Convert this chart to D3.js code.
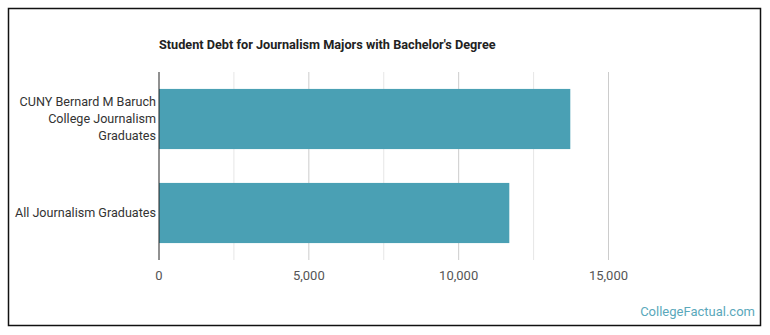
<!DOCTYPE html>
<html>
<head>
<meta charset="utf-8">
<script src="https://cdn.jsdelivr.net/npm/d3@7.9.0/dist/d3.min.js"></script>
<style>
  body { margin: 0; background: #fff; }
  svg { font-family: Roboto, "Noto Sans", sans-serif; }
</style>
</head>
<body>
<svg id="chart" width="770" height="335"></svg>
<script>
const categories = [
  ['CUNY Bernard M Baruch', 'College Journalism', 'Graduates'],
  ['All Journalism Graduates']
];
const debtValues = [13725, 11690];
const majorTicks = [0, 5000, 10000, 15000];
const minorTicks = [2500, 7500, 12500];

const svg = d3.select('#chart');

// frame
svg.append('rect')
  .attr('x', 8.5).attr('y', 8.5)
  .attr('width', 752).attr('height', 317)
  .attr('fill', 'none')
  .attr('stroke', '#111')
  .attr('stroke-width', 1.5);

svg.append('text')
  .attr('x', 159).attr('y', 49)
  .attr('font-size', 12.7)
  .attr('font-weight', 700)
  .attr('fill', '#222')
  .text("Student Debt for Journalism Majors with Bachelor's Degree");

const x = d3.scaleLinear().domain([0, 15000]).range([159, 608.5]);
const y = d3.scaleBand().domain(d3.range(categories.length)).range([72, 260]).paddingInner(0.36).paddingOuter(0.18);

// grid
svg.append('g').selectAll('line')
  .data(minorTicks)
  .join('line')
  .attr('x1', d => x(d)).attr('x2', d => x(d))
  .attr('y1', 72).attr('y2', 260)
  .attr('stroke', '#e6e6e6');

svg.append('g').selectAll('line')
  .data(majorTicks.slice(1))
  .join('line')
  .attr('x1', d => x(d)).attr('x2', d => x(d))
  .attr('y1', 72).attr('y2', 260)
  .attr('stroke', '#cccccc');

// bars
svg.append('g').selectAll('rect')
  .data(debtValues)
  .join('rect')
  .attr('x', x(0))
  .attr('y', (d, i) => y(i))
  .attr('width', d => x(d) - x(0))
  .attr('height', y.bandwidth())
  .attr('fill', '#4aa0b4');

// axis line
svg.append('line')
  .attr('x1', x(0)).attr('x2', x(0))
  .attr('y1', 72).attr('y2', 260)
  .attr('stroke', '#222');

// category labels
const labels = svg.append('g').selectAll('text')
  .data(categories)
  .join('text')
  .attr('text-anchor', 'end')
  .attr('font-size', 12.6)
  .attr('fill', '#333');

labels.each(function(lines, i) {
  const cy = y(i) + y.bandwidth() / 2;
  const lh = 17;
  const top = cy - (lines.length - 1) * lh / 2;
  d3.select(this).selectAll('tspan')
    .data(lines)
    .join('tspan')
    .attr('x', 156)
    .attr('y', (d, j) => top + j * lh)
    .attr('dy', '0.35em')
    .text(d => d);
});

// tick labels
svg.append('g').selectAll('text')
  .data(majorTicks)
  .join('text')
  .attr('x', d => x(d))
  .attr('y', 275)
  .attr('dy', '0.35em')
  .attr('text-anchor', 'middle')
  .attr('font-size', 13)
  .attr('fill', '#555')
  .text(d => d3.format(',')(d));

svg.append('text')
  .attr('x', 755).attr('y', 316)
  .attr('text-anchor', 'end')
  .attr('font-size', 13)
  .attr('fill', '#5aa8bb')
  .text('CollegeFactual.com');
</script>
</body>
</html>
